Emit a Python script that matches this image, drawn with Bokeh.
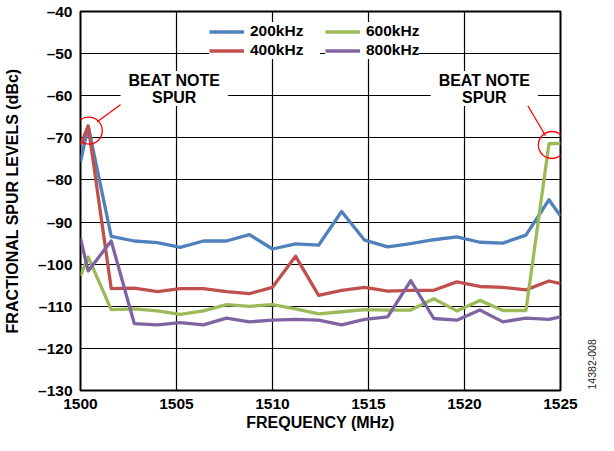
from bokeh.plotting import figure
from bokeh.models import Range1d, Legend, LegendItem, Label, ColumnDataSource
from bokeh.layouts import row
from bokeh.embed import file_html
from bokeh.resources import INLINE
import math

# ---- data ----
freq_mhz = [1500.0, 1500.4, 1501.6, 1502.8, 1504.0, 1505.2, 1506.4, 1507.6, 1508.8,
            1510.0, 1511.2, 1512.4, 1513.6, 1514.8, 1516.0, 1517.2, 1518.4, 1519.6,
            1520.8, 1522.0, 1523.2, 1524.4, 1525.0]
spur_200k = [-75.7, -67.2, -93.4, -94.5, -94.9, -96.0, -94.5, -94.5, -93.0, -96.4, -95.2,
             -95.5, -87.5, -94.3, -95.9, -95.1, -94.2, -93.5, -94.8, -95.0, -93.1, -84.7, -88.6]
spur_400k = [-71.7, -67.2, -105.8, -105.7, -106.5, -105.8, -105.8, -106.5, -107.0, -105.5, -98.1,
             -107.4, -106.2, -105.5, -106.4, -106.2, -106.2, -104.2, -105.3, -105.5, -106.1, -104.0, -104.6]
spur_600k = [-102.8, -98.3, -110.8, -110.6, -111.1, -111.9, -111.1, -109.6, -110.0, -109.6, -110.6,
             -111.8, -111.3, -110.8, -110.9, -110.9, -108.2, -111.1, -108.6, -111.0, -111.0, -71.4, -71.3]
spur_800k = [-93.9, -101.6, -94.5, -114.1, -114.4, -113.9, -114.4, -112.8, -113.7, -113.3, -113.1,
             -113.3, -114.4, -113.1, -112.5, -103.9, -112.9, -113.3, -110.9, -113.7, -112.8, -113.1, -112.5]

series_labels = ["200kHz", "400kHz", "600kHz", "800kHz"]
series_colors = ["#4F81BD", "#C0504D", "#9BBB59", "#8064A2"]

x_ticks = [1500, 1505, 1510, 1515, 1520, 1525]
y_ticks = [-130, -120, -110, -100, -90, -80, -70, -60, -50, -40]

# annotation markers (beat note spurs)
circle_x = [1500.43, 1524.55]
circle_y = [-68.3, -71.7]
pointer_x0 = [1502.76, 1523.03]
pointer_y0 = [-59.9, -60.3]
pointer_x1 = [1500.87, 1524.22]
pointer_y1 = [-66.2, -69.5]
note_x = [1504.88, 1521.03]
note_y = [-58.3, -58.3]
note_text = "BEAT NOTE\nSPUR"
fig_id = "14382-008"

FONT = "Liberation Sans"

p = figure(width=580, height=435, output_backend="svg", toolbar_location=None,
           x_range=Range1d(1500, 1525), y_range=Range1d(-130, -40),
           min_border_left=80, min_border_right=20, min_border_top=11, min_border_bottom=45)

p.background_fill_color = "white"
p.border_fill_color = "white"
p.outline_line_color = "black"
p.outline_line_width = 2

p.xaxis.ticker = x_ticks
p.yaxis.ticker = y_ticks
p.yaxis.major_label_overrides = {v: ("\u2013" + str(abs(v))) if v < 0 else str(v) for v in y_ticks}

for ax in (p.xaxis[0], p.yaxis[0]):
    ax.axis_line_color = None
    ax.major_tick_in = 0
    ax.major_tick_out = 0
    ax.minor_tick_in = 0
    ax.minor_tick_out = 0
    ax.major_label_text_font = FONT
    ax.major_label_text_font_style = "bold"
    ax.major_label_text_font_size = "15.5px"
    ax.major_label_text_color = "black"
    ax.axis_label_text_font = FONT
    ax.axis_label_text_font_style = "bold"
    ax.axis_label_text_font_size = "16px"
    ax.axis_label_text_color = "black"

p.xaxis.axis_label = "FREQUENCY (MHz)"
p.yaxis.axis_label = "FRACTIONAL SPUR LEVELS (dBc)"
p.xaxis.major_label_standoff = 8
p.xaxis.axis_label_standoff = 2
p.yaxis.major_label_standoff = 8
p.yaxis.axis_label_standoff = 14

p.grid.grid_line_color = "black"
p.grid.grid_line_width = 1.2
p.grid.grid_line_alpha = 1.0

renderers = []
for ys, col in zip([spur_200k, spur_400k, spur_600k, spur_800k], series_colors):
    src = ColumnDataSource(dict(x=freq_mhz, y=ys))
    r = p.line("x", "y", source=src, line_color=col, line_width=3.3, line_join="round")
    renderers.append(r)

# red annotation circles and pointers
p.scatter(circle_x, circle_y, marker="circle", size=27, fill_color=None,
          line_color="#FF0000", line_width=1.3)
p.segment(pointer_x0, pointer_y0, pointer_x1, pointer_y1, line_color="#FF0000", line_width=1.3)

for nx, ny in zip(note_x, note_y):
    p.add_layout(Label(x=nx, y=ny, text=note_text, text_align="center", text_baseline="middle",
                       text_font=FONT, text_font_style="bold", text_font_size="16px",
                       text_color="black", text_line_height=1.0,
                       background_fill_color="white", background_fill_alpha=1.0,
                       padding=dict(left=8, right=8, top=1, bottom=0)))

def make_legend(idx, loc, lw):
    leg = Legend(items=[LegendItem(label=series_labels[i], renderers=[renderers[i]]) for i in idx],
                 location=loc, orientation="vertical", margin=0, padding=6, spacing=1,
                 glyph_width=35, glyph_height=17, label_standoff=6, label_height=17,
                 label_width=lw,
                 label_text_font=FONT, label_text_font_style="bold",
                 label_text_font_size="15.5px", label_text_color="black",
                 background_fill_color="white", background_fill_alpha=1.0,
                 border_line_color=None)
    p.add_layout(leg)

make_legend([0, 1], (129, 331), 70)
make_legend([2, 3], (245, 331), 20)

# narrow strip on the right carrying the rotated figure id
side = figure(width=18, height=435, output_backend="svg", toolbar_location=None,
              x_range=Range1d(0, 18), y_range=Range1d(0, 435),
              x_axis_location=None, y_axis_location=None, min_border=0)
side.grid.visible = False
side.outline_line_color = None
side.background_fill_color = "white"
side.border_fill_color = "white"
side.add_layout(Label(x=11, y=30, text=fig_id, angle=math.pi / 2,
                      text_align="center", text_baseline="middle",
                      text_font=FONT, text_font_size="10.5px", text_color="#222222"))

layout = row(p, side, spacing=0)

open("out.html", "w").write(file_html(layout, INLINE))
